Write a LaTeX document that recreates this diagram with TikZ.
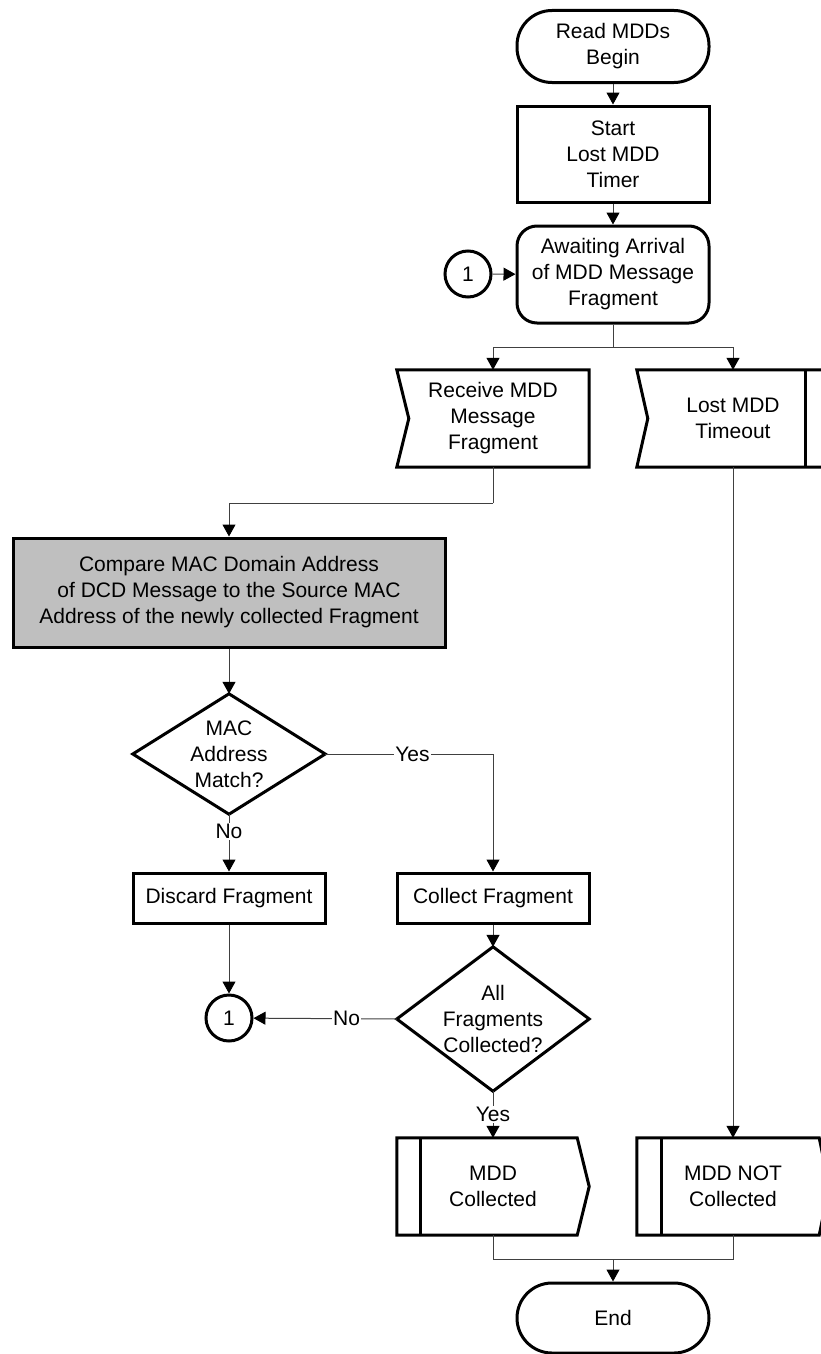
\documentclass[tikz,border=0pt]{standalone}
\usepackage{fontspec}
\setmainfont{Liberation Sans}
\usetikzlibrary{arrows.meta}
\tikzset{
  txt/.style={align=center, inner sep=0pt},
  box/.style={txt, draw=black, line width=3pt},
  term/.style={box, rounded corners=35pt, minimum width=192pt, minimum height=72pt},
  proc/.style={box, minimum width=192pt},
  conn/.style={box, circle, minimum size=46pt},
  shp/.style={line width=3pt},
  line/.style={line width=1pt, black!75},
  flow/.style={line, -{Triangle[length=12pt,width=13pt,color=black]}},
  lbl/.style={fill=white, text=black, inner sep=1pt}
}
\begin{document}
\begin{tikzpicture}[x=1pt,y=-1pt,font=\fontsize{21}{26}\selectfont]
\useasboundingbox (0,0) rectangle (821,1354);
% top part
\node[term] (begin) at (613,46.5) {Read MDDs\\Begin};
\node[proc, minimum height=96pt] (start) at (613,154) {Start\\Lost MDD\\Timer};
\node[box, rounded corners=20pt, minimum width=192pt, minimum height=97pt] (wait) at (613,274.5) {Awaiting Arrival\\of MDD Message\\Fragment};
\node[conn] (c1a) at (468,274) {1};
\draw[flow] (begin) -- (start);
\draw[flow] (start) -- (wait);
\draw[flow] (c1a) -- (wait);
% events
\node[txt, minimum width=192pt, minimum height=97pt] (recv) at (493,418.5) {Receive MDD\\Message\\Fragment};
\draw[shp] (recv.north west) -- (recv.north east) -- (recv.south east) -- (recv.south west) -- ([xshift=12pt]recv.west) -- cycle;
\node[txt, minimum width=192pt, minimum height=97pt] (lost) at (733,418.5) {Lost MDD\\Timeout};
\draw[shp] (lost.north west) -- (lost.north east) -- (lost.south east) -- (lost.south west) -- ([xshift=11pt]lost.west) -- cycle;
\draw[shp] ([xshift=-24pt]lost.north east) -- ([xshift=-24pt]lost.south east);
\coordinate (split) at (613,347);
\draw[line] (wait) -- (split);
\draw[flow] (split) -| (recv.north);
\draw[flow] (split) -| (lost.north);
% compare and check
\node[box, fill=gray!50, minimum width=432pt, minimum height=109pt] (cmp) at (229,592.5) {Compare MAC Domain Address\\of DCD Message to the Source MAC\\Address of the newly collected Fragment};
\coordinate (j1) at (493,503);
\draw[line] (recv.south) -- (j1);
\draw[flow] (j1) -| (cmp.north);
\node[txt, minimum width=192pt, minimum height=120pt] (d1) at (229,754) {MAC\\Address\\Match?};
\draw[shp] (d1.north) -- (d1.east) -- (d1.south) -- (d1.west) -- cycle;
\draw[flow] (cmp) -- (d1.north);
\node[proc, minimum height=50pt] (disc) at (229,898) {Discard Fragment};
\node[proc, minimum height=50pt] (coll) at (493,898) {Collect Fragment};
\draw[flow] (d1.south) -- node[lbl, pos=0.3] {No} (disc);
\draw[flow] (d1.east) -| node[lbl, pos=0.26] {Yes} (coll.north);
\node[txt, minimum width=192pt, minimum height=144pt] (d2) at (493,1019) {All\\Fragments\\Collected?};
\draw[shp] (d2.north) -- (d2.east) -- (d2.south) -- (d2.west) -- cycle;
\draw[flow] (coll) -- (d2.north);
\node[conn] (c1b) at (229,1018) {1};
\draw[flow] (disc) -- (c1b);
\draw[flow] (d2.west) -- node[lbl, pos=0.35] {No} (c1b);
% results
\node[txt, minimum width=192pt, minimum height=97pt] (got) at (493,1186.5) {MDD\\Collected};
\draw[shp] (got.north west) -- ([xshift=-12pt]got.north east) -- (got.east) -- ([xshift=-12pt]got.south east) -- (got.south west) -- cycle;
\draw[shp] ([xshift=24pt]got.north west) -- ([xshift=24pt]got.south west);
\node[txt, minimum width=192pt, minimum height=97pt] (notgot) at (733,1186.5) {MDD NOT\\Collected};
\draw[shp] (notgot.north west) -- ([xshift=-10pt]notgot.north east) -- (notgot.east) -- ([xshift=-10pt]notgot.south east) -- (notgot.south west) -- cycle;
\draw[shp] ([xshift=25pt]notgot.north west) -- ([xshift=25pt]notgot.south west);
\draw[flow] (d2.south) -- node[lbl] {Yes} (got);
\draw[flow] (lost) -- (notgot);
\node[term, minimum height=70pt] (end) at (613,1318) {End};
\coordinate (j2) at (613,1259);
\draw[line] (got.south) |- (j2);
\draw[line] (notgot.south) |- (j2);
\draw[flow] (j2) -- (end);
\end{tikzpicture}
\end{document}
